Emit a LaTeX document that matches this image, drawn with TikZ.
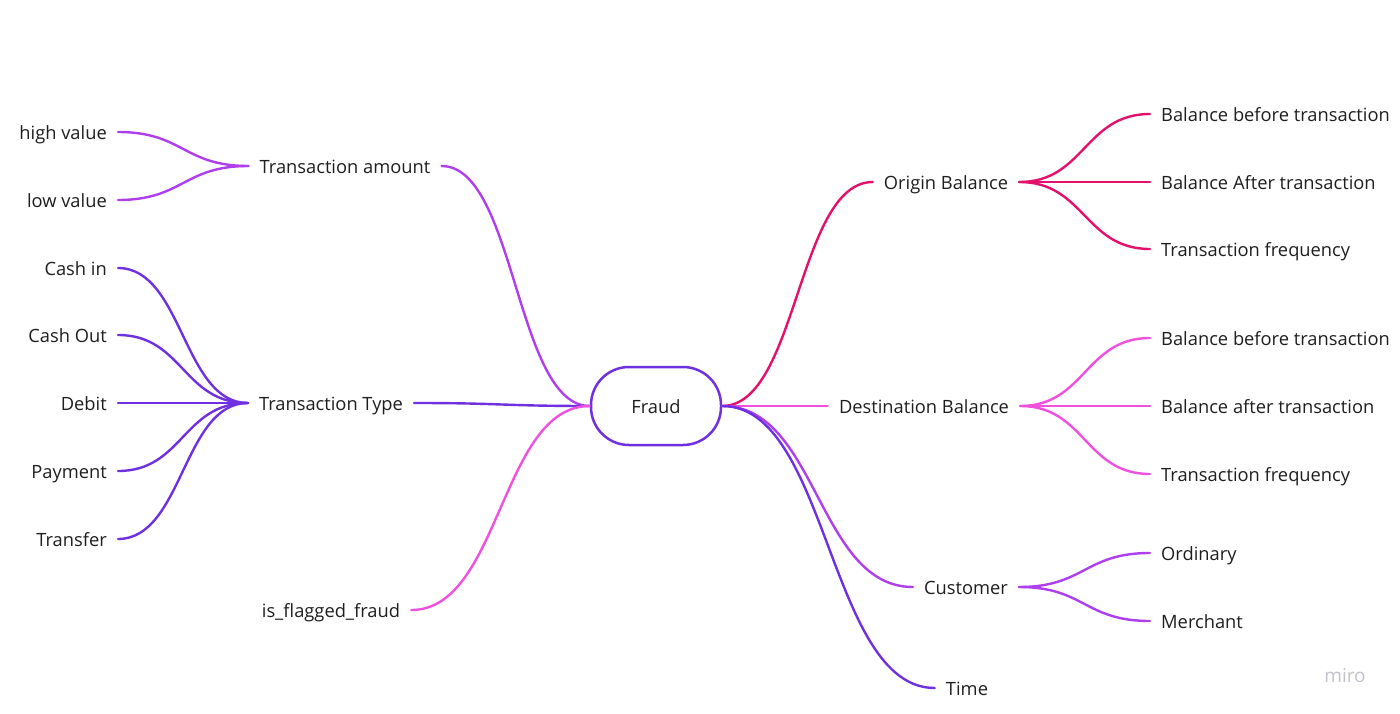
\documentclass[tikz,border=0pt]{standalone}
\usepackage{fontspec}
\setmainfont{Open Sans}
\usetikzlibrary{calc}
\definecolor{mmViolet}{HTML}{6F31E0}
\definecolor{mmPurple}{HTML}{AE3EEE}
\definecolor{mmPink}{HTML}{EF50DE}
\definecolor{mmCrimson}{HTML}{E3116C}
\definecolor{mmInk}{HTML}{1E1E1E}
\definecolor{mmGray}{HTML}{C2C2CD}
\begin{document}
\begin{tikzpicture}
    [
        x = 1pt, y = -1pt,
        every node/.style={
            font = \fontsize{18.3}{22}\selectfont,
            text = mmInk,
            inner xsep = 11pt,
            text height = 15pt,
            text depth = 0pt
        },
        branch/.style={
            line width = 2.4pt,
            line cap = round,
            to path={let \p1=(\tikztostart), \p2=(\tikztotarget) in
                .. controls (\x1/2+\x2/2,\y1) and (\x1/2+\x2/2,\y2) .. (\p2)}
        },
    ]
    \useasboundingbox (0,0) rectangle (1400,714);

    % root
    \node [draw=mmViolet, line width=2.5pt, rounded corners=38pt,
           minimum width=130pt, minimum height=78pt] (fraud) at (656,406) {Fraud};

    % left side
    \node (amount) at (345,166) {Transaction amount};
    \node [anchor=east] (high) at (118,132) {high value};
    \node [anchor=east] (low) at (118,200) {low value};

    \node (type) at (331,403) {Transaction Type};
    \node [anchor=east] (cashin) at (118,268) {Cash in};
    \node [anchor=east] (cashout) at (118,335) {Cash Out};
    \node [anchor=east] (debit) at (118,403) {Debit};
    \node [anchor=east] (payment) at (118,471) {Payment};
    \node [anchor=east] (transfer) at (118,539) {Transfer};

    \node (flagged) at (331,610) {is\_flagged\_fraud};

    % right side
    \node (origin) at (946,182) {Origin Balance};
    \node [anchor=west] (obefore) at (1150,114) {Balance before transaction};
    \node [anchor=west] (oafter) at (1150,182) {Balance After transaction};
    \node [anchor=west] (ofreq) at (1150,249) {Transaction frequency};

    \node (dest) at (924,406) {Destination Balance};
    \node [anchor=west] (dbefore) at (1150,338) {Balance before transaction};
    \node [anchor=west] (dafter) at (1150,406) {Balance after transaction};
    \node [anchor=west] (dfreq) at (1150,474) {Transaction frequency};

    \node (customer) at (966,587) {Customer};
    \node [anchor=west] (ordinary) at (1150,553) {Ordinary};
    \node [anchor=west] (merchant) at (1150,621) {Merchant};

    \node (time) at (967,688) {Time};

    \node [font=\fontsize{19}{22}\selectfont, text=mmGray] (miro) at (1345,675) {miro};

    % connectors
    \draw [branch, mmPurple] (fraud.west) to (amount.east);
    \draw [branch, mmPurple] (amount.west) to (high.east);
    \draw [branch, mmPurple] (amount.west) to (low.east);

    \draw [branch, mmViolet] (fraud.west) to (type.east);
    \draw [branch, mmViolet] (type.west) to (cashin.east);
    \draw [branch, mmViolet] (type.west) to (cashout.east);
    \draw [branch, mmViolet] (type.west) to (debit.east);
    \draw [branch, mmViolet] (type.west) to (payment.east);
    \draw [branch, mmViolet] (type.west) to (transfer.east);

    \draw [branch, mmPink] (fraud.west) to (flagged.east);

    \draw [branch, mmCrimson] (fraud.east) to (origin.west);
    \draw [branch, mmCrimson] (origin.east) to (obefore.west);
    \draw [branch, mmCrimson] (origin.east) to (oafter.west);
    \draw [branch, mmCrimson] (origin.east) to (ofreq.west);

    \draw [branch, mmPink] (fraud.east) to (dest.west);
    \draw [branch, mmPink] (dest.east) to (dbefore.west);
    \draw [branch, mmPink] (dest.east) to (dafter.west);
    \draw [branch, mmPink] (dest.east) to (dfreq.west);

    \draw [branch, mmPurple] (fraud.east) to (customer.west);
    \draw [branch, mmPurple] (customer.east) to (ordinary.west);
    \draw [branch, mmPurple] (customer.east) to (merchant.west);

    \draw [branch, mmViolet] (fraud.east) to (time.west);
\end{tikzpicture}
\end{document}
